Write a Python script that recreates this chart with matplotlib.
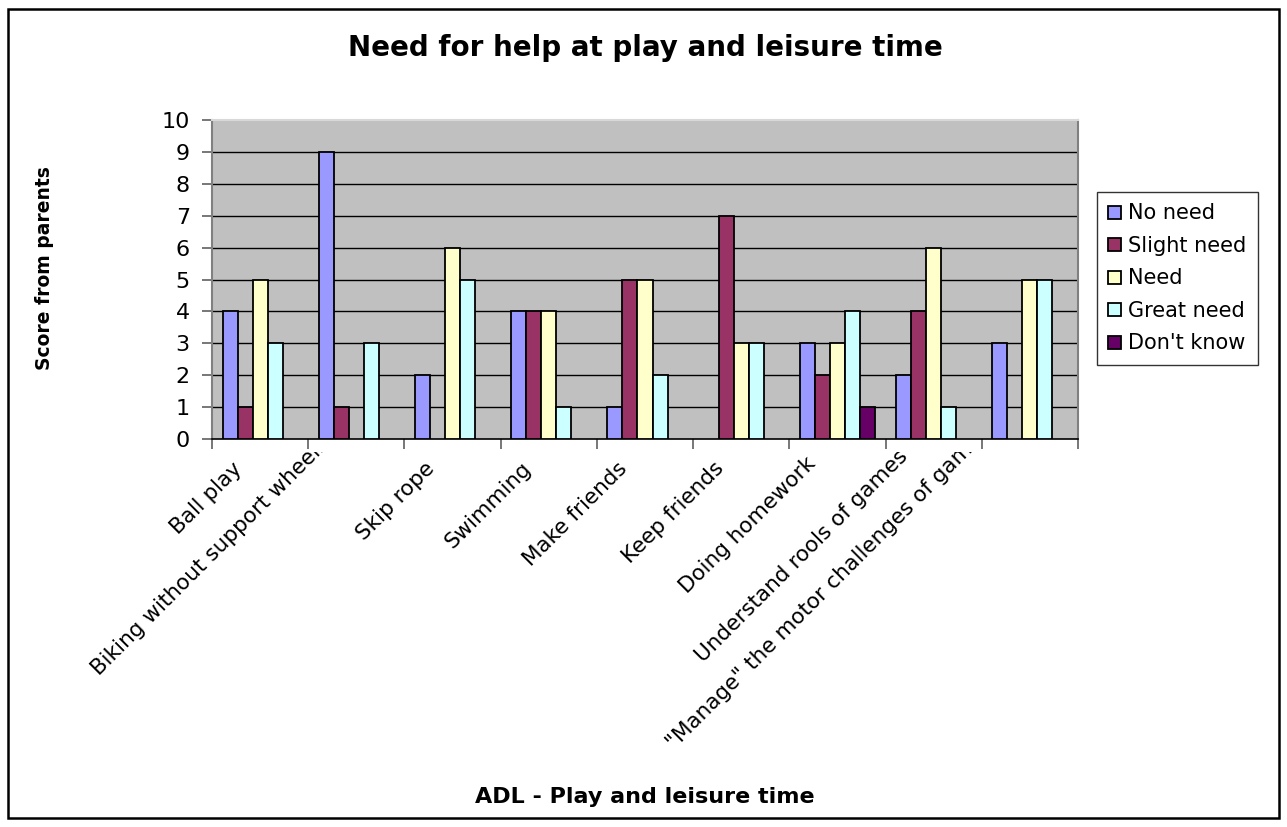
import numpy as np
import matplotlib
matplotlib.use('Agg')
import matplotlib.pyplot as plt
from matplotlib.patches import Rectangle
from matplotlib.transforms import Bbox

plt.rcParams['font.family'] = ['DejaVu Sans']

categories = ['Ball play', 'Biking without support wheels', 'Skip rope', 'Swimming',
              'Make friends', 'Keep friends', 'Doing homework', 'Understand rools of games',
              '"Manage" the motor challenges of games']
series = ['No need', 'Slight need', 'Need', 'Great need', "Don't know"]
no_need = [4, 9, 2, 4, 1, 0, 3, 2, 3]
slight_need = [1, 1, 0, 4, 5, 7, 2, 4, 0]
need = [5, 0, 6, 4, 5, 3, 3, 6, 5]
great_need = [3, 3, 5, 1, 2, 3, 4, 1, 5]
dont_know = [0, 0, 0, 0, 0, 0, 1, 0, 0]
colors = ['#9999FF', '#993366', '#FFFFCC', '#CCFFFF', '#660066']

# long category names get pushed up into the axis line and cut off (px right, px up)
label_nudge = [(0, 0), (-10, 24), (0, 0), (0, 0), (0, 0), (0, 0), (-4, 5), (-8, 12), (-22, 36)]

W, H = 1287, 827
fig = plt.figure(figsize=(W / 100, H / 100), dpi=100)
fig.patches.append(Rectangle((8 / W, 9 / H), 1271 / W, 809 / H, transform=fig.transFigure,
                             fill=False, edgecolor='black', linewidth=1.8))

ax = fig.add_axes([212 / W, 388 / H, 866 / W, 319 / H])
ax.set_facecolor('#C0C0C0')

x = np.arange(len(categories))
bw = 0.156
values = [no_need, slight_need, need, great_need, dont_know]
for i, (name, vals, c) in enumerate(zip(series, values, colors)):
    vals = np.array(vals, dtype=float)
    keep = vals > 0  # empty categories get no bar at all
    ax.bar(x[keep] + (i - 2) * bw, vals[keep], bw, color=c, edgecolor='black',
           linewidth=1.3, label=name, zorder=3)

ax.set_xlim(-0.5, len(categories) - 0.5)
ax.set_ylim(0, 10)
ax.set_yticks(range(0, 11))
ax.tick_params(axis='y', labelsize=16, length=7, width=1.2, color='#606060', pad=9)
for yv in range(1, 10):
    ax.axhline(yv, color='black', linewidth=1, zorder=1)

# ticks sit between categories, labels at category centres
ax.set_xticks(np.arange(len(categories) + 1) - 0.5)
ax.set_xticklabels([])
ax.tick_params(axis='x', length=7, width=1.2, color='#606060')
clip = Bbox.from_extents(0, 0, W, H - 452)
for xi, lab, (nx, ny) in zip(x, categories, label_nudge):
    t = ax.annotate(lab, xy=(xi, 0), xycoords=('data', 'axes fraction'),
                    xytext=(-20 + nx * 0.72, -14 + ny * 0.72), textcoords='offset points',
                    rotation=45, ha='right', va='top', rotation_mode='anchor',
                    fontsize=15.5, annotation_clip=False)
    t.set_clip_box(clip)
    t.set_clip_on(True)

for s in ['left', 'right', 'top']:
    ax.spines[s].set_color('#808080')
    ax.spines[s].set_linewidth(1.5)
ax.spines['top'].set_color('#D8D8D8')
ax.spines['bottom'].set_color('black')
ax.spines['bottom'].set_linewidth(1.2)

fig.text(645 / W, 1 - 48 / H, 'Need for help at play and leisure time',
         ha='center', va='center', fontsize=20, fontweight='bold')
fig.text(45 / W, 1 - 268 / H, 'Score from parents', rotation=90,
         ha='center', va='center', fontsize=13.5, fontweight='bold')
fig.text(645 / W, 1 - 797 / H, 'ADL - Play and leisure time',
         ha='center', va='center', fontsize=16, fontweight='bold')

leg = fig.legend(loc='upper left', bbox_to_anchor=(1097 / W, 1 - 192 / H),
                 fontsize=15, frameon=True, fancybox=False, shadow=False,
                 handlelength=0.6, handleheight=0.6, handletextpad=0.35,
                 labelspacing=0.6, borderpad=0.55, borderaxespad=0)
leg.get_frame().set_edgecolor('black')
leg.get_frame().set_linewidth(1)

fig.savefig('out.png', dpi=100)
